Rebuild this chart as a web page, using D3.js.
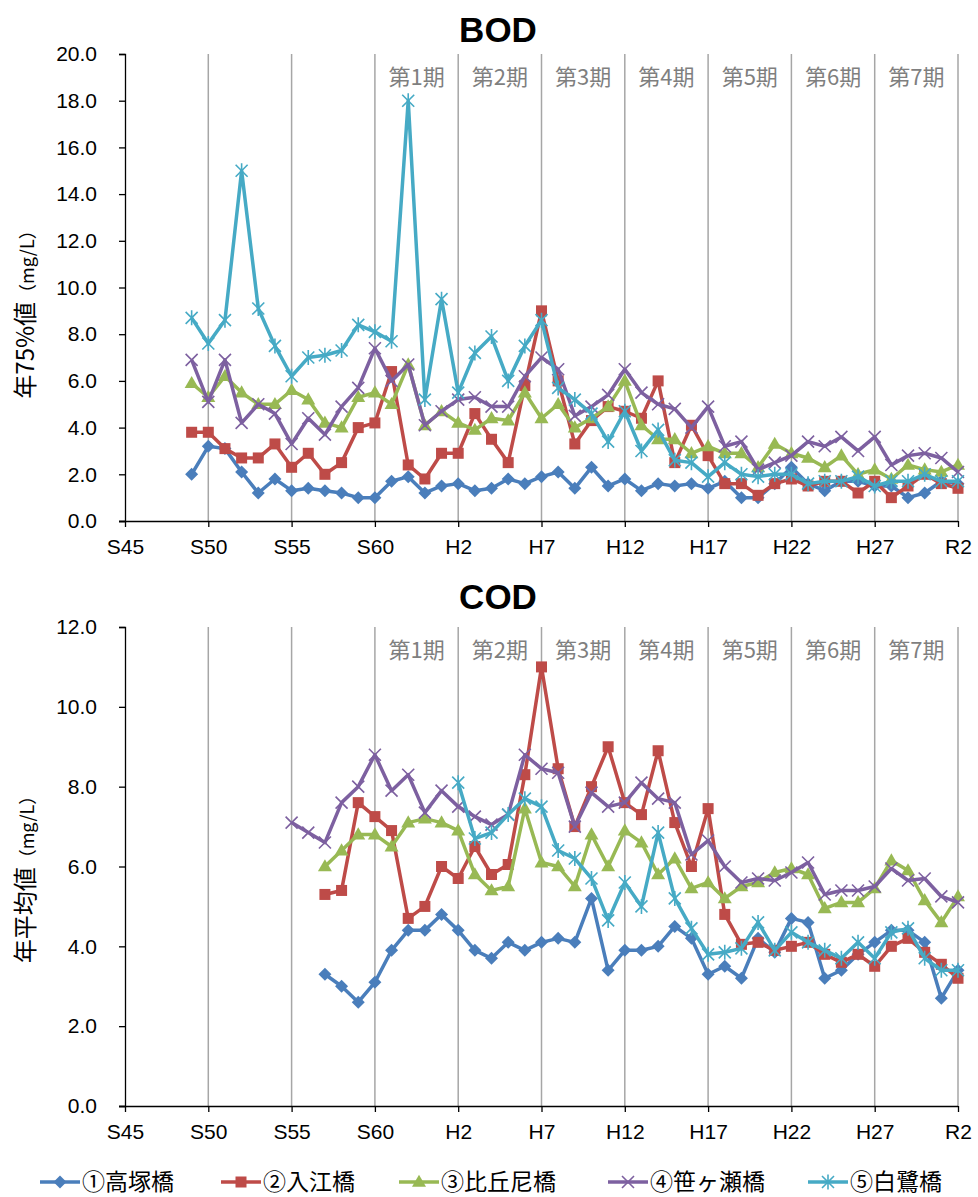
<!DOCTYPE html>
<html><head><meta charset="utf-8">
<script src="https://cdn.jsdelivr.net/npm/d3@7"></script>
<style>
html,body{margin:0;padding:0;background:#fff;}
svg{display:block;}
</style></head>
<body>
<svg id="chart" width="978" height="1197"></svg>
<script>
// ---------------- DATA ----------------
const seriesNames = ["①高塚橋", "②入江橋", "③比丘尼橋", "④笹ヶ瀬橋", "⑤白鷺橋"];
const seriesColors = ["#4A7EBB", "#BE4B48", "#98B954", "#7D60A0", "#46AAC5"];
const seriesMarkers = ["diamond", "square", "triangle", "x", "star"];

const xTickYears = [1970, 1975, 1980, 1985, 1990, 1995, 2000, 2005, 2010, 2015, 2020];
const xTickLabels = ["S45", "S50", "S55", "S60", "H2", "H7", "H12", "H17", "H22", "H27", "R2"];
const periodLabels = ["第1期", "第2期", "第3期", "第4期", "第5期", "第6期", "第7期"];
const periodStartYears = [1985, 1990, 1995, 2000, 2005, 2010, 2015];

const bodTicks = [0, 2, 4, 6, 8, 10, 12, 14, 16, 18, 20];
const codTicks = [0, 2, 4, 6, 8, 10, 12];

// BOD (年75%値), 1974 (S49) - 2020 (R2)
const bodStartYear = 1974;
const bod1 = [2.0,3.2,3.1,2.1,1.2,1.8,1.3,1.4,1.3,1.2,1.0,1.0,1.7,1.9,1.2,1.5,1.6,1.3,1.4,1.8,1.6,1.9,2.1,1.4,2.3,1.5,1.8,1.3,1.6,1.5,1.6,1.4,1.7,1.0,1.0,1.6,2.3,1.6,1.3,1.7,1.7,1.5,1.5,1.0,1.2,1.7,1.6];
const bod2 = [3.8,3.8,3.1,2.7,2.7,3.3,2.3,2.9,2.0,2.5,4.0,4.2,6.4,2.4,1.8,2.9,2.9,4.6,3.5,2.5,5.8,9.0,6.0,3.3,4.3,4.9,4.7,4.4,6.0,2.5,4.1,2.8,1.6,1.6,1.1,1.6,1.8,1.5,1.7,1.7,1.2,1.7,1.0,1.5,2.0,1.6,1.4];
const bod3 = [5.9,5.3,6.2,5.5,5.0,5.0,5.6,5.2,4.2,4.0,5.3,5.5,5.0,6.7,4.1,4.7,4.2,3.9,4.4,4.3,5.5,4.4,5.0,4.0,4.4,4.9,6.0,4.1,3.5,3.5,2.9,3.2,2.9,2.9,2.3,3.3,2.9,2.7,2.3,2.8,2.0,2.2,1.8,2.4,2.2,2.1,2.4];
const bod4 = [6.9,5.1,6.9,4.2,5.0,4.6,3.3,4.4,3.7,4.9,5.7,7.4,6.0,6.7,4.1,4.7,5.2,5.3,4.9,4.9,6.2,7.0,6.5,4.5,4.9,5.4,6.5,5.5,5.0,4.8,4.0,4.9,3.2,3.4,2.2,2.5,2.8,3.4,3.2,3.6,3.0,3.6,2.4,2.8,2.9,2.7,2.1];
const bod5 = [8.7,7.6,8.6,15.0,9.1,7.5,6.2,7.0,7.1,7.3,8.4,8.1,7.7,18.0,5.2,9.5,5.5,7.2,7.9,6.0,7.5,8.6,5.7,5.2,4.6,3.4,4.7,3.0,3.9,2.6,2.5,1.9,2.5,2.0,1.9,2.0,2.0,1.6,1.7,1.7,1.9,1.5,1.7,1.7,2.0,1.7,1.7];

// COD (年平均値)
const cod1Start = 1982;
const cod1 = [3.3,3.0,2.6,3.1,3.9,4.4,4.4,4.8,4.4,3.9,3.7,4.1,3.9,4.1,4.2,4.1,5.2,3.4,3.9,3.9,4.0,4.5,4.2,3.3,3.5,3.2,4.2,3.85,4.7,4.6,3.2,3.4,3.8,4.1,4.4,4.4,4.1,2.7,3.4];
const cod2Start = 1982;
const cod2 = [5.3,5.4,7.6,7.25,6.9,4.7,5.0,6.0,5.7,6.5,5.8,6.05,8.3,11.0,8.45,7.0,8.0,9.0,7.6,7.3,8.9,7.1,6.0,7.45,4.8,4.05,4.1,3.9,4.0,4.1,3.8,3.6,3.8,3.5,4.0,4.2,3.85,3.55,3.2];
const cod3Start = 1982;
const cod3 = [6.0,6.4,6.8,6.8,6.5,7.1,7.2,7.1,6.9,5.8,5.4,5.5,7.45,6.1,6.0,5.5,6.8,6.0,6.9,6.6,5.8,6.2,5.45,5.6,5.2,5.5,5.6,5.85,5.95,5.8,4.95,5.1,5.1,5.45,6.15,5.9,5.15,4.6,5.25];
const cod4Start = 1980;
const cod4 = [7.1,6.85,6.6,7.6,8.0,8.8,7.9,8.3,7.35,7.9,7.5,7.25,7.05,7.3,8.8,8.45,8.35,7.0,7.85,7.5,7.6,8.1,7.7,7.6,6.3,6.65,6.0,5.6,5.7,5.65,5.85,6.1,5.3,5.4,5.4,5.5,5.95,5.65,5.7,5.25,5.1];
const cod5Start = 1990;
const cod5 = [8.1,6.7,6.85,7.3,7.7,7.5,6.4,6.2,5.7,4.65,5.6,5.0,6.85,5.2,4.45,3.8,3.85,3.95,4.6,3.9,4.35,4.1,3.9,3.7,4.1,3.7,4.35,4.45,3.7,3.4,3.4];

// --------------- BUILD ---------------
const toPts = (start, arr) => arr.map((v, i) => ({year: start + i, value: v}));
const bodSeries = [bod1, bod2, bod3, bod4, bod5].map(a => toPts(bodStartYear, a));
const codSeries = [toPts(cod1Start, cod1), toPts(cod2Start, cod2), toPts(cod3Start, cod3), toPts(cod4Start, cod4), toPts(cod5Start, cod5)];

const svg = d3.select("#chart");
const NUM_FONT = "'Liberation Sans', Arial, sans-serif";
const JP_FONT = "'Noto Sans CJK JP', 'Noto Sans', sans-serif";

const x = d3.scaleLinear().domain([1970, 2020]).range([125, 958]);

function drawMarker(g, type, color, cx, cy) {
  if (type === "diamond") {
    const r = 6.5;
    g.append("path").attr("d", `M${cx},${cy - r}L${cx + r},${cy}L${cx},${cy + r}L${cx - r},${cy}Z`).attr("fill", color);
  } else if (type === "square") {
    const s = 11;
    g.append("rect").attr("x", cx - s / 2).attr("y", cy - s / 2).attr("width", s).attr("height", s).attr("fill", color);
  } else if (type === "triangle") {
    const s = 14, h = s * 0.87;
    g.append("path").attr("d", `M${cx},${cy - h * 0.6}L${cx + s / 2},${cy + h * 0.4}L${cx - s / 2},${cy + h * 0.4}Z`).attr("fill", color);
  } else if (type === "x") {
    const r = 6;
    g.append("path").attr("d", `M${cx - r},${cy - r}L${cx + r},${cy + r}M${cx + r},${cy - r}L${cx - r},${cy + r}`)
      .attr("stroke", color).attr("stroke-width", 1.6).attr("fill", "none");
  } else if (type === "star") {
    const r = 6;
    g.append("path").attr("d", `M${cx - r},${cy - r}L${cx + r},${cy + r}M${cx + r},${cy - r}L${cx - r},${cy + r}M${cx},${cy - r - 1.5}L${cx},${cy + r + 1.5}`)
      .attr("stroke", color).attr("stroke-width", 1.6).attr("fill", "none");
  }
}

function panel(opts) {
  const {title, titleY, top, bottom, maxV, ticks, series, yTitleMain, yTitleCenter} = opts;
  const y = d3.scaleLinear().domain([0, maxV]).range([bottom, top]);
  const g = svg.append("g");

  // vertical gridlines
  g.selectAll("line.grid").data(xTickYears.slice(1)).enter().append("line")
    .attr("x1", d => x(d)).attr("x2", d => x(d)).attr("y1", top).attr("y2", bottom)
    .attr("stroke", "#a6a6a6").attr("stroke-width", 1.5);

  // period labels
  g.selectAll("text.period").data(periodLabels).enter().append("text")
    .attr("x", (d, i) => x(periodStartYears[i] + 2.5))
    .attr("y", top + 31)
    .attr("text-anchor", "middle")
    .attr("font-family", JP_FONT).attr("font-size", 22)
    .attr("fill", "#7f7f7f")
    .text(d => d);

  // y axis
  const yAxis = d3.axisLeft(y).tickValues(ticks).tickFormat(d3.format(".1f")).tickSize(6).tickPadding(22);
  const ya = g.append("g").attr("transform", `translate(${x(1970)},0)`).call(yAxis);
  ya.select(".domain").attr("stroke", "#000").attr("stroke-width", 1.3);
  ya.selectAll(".tick line").attr("stroke", "#000").attr("stroke-width", 1.3);
  ya.selectAll(".tick text").attr("font-family", NUM_FONT).attr("font-size", 21).attr("fill", "#000");

  // x axis
  const xAxis = d3.axisBottom(x).tickValues(xTickYears).tickFormat((d, i) => xTickLabels[i]).tickSize(6).tickPadding(12);
  const xa = g.append("g").attr("transform", `translate(0,${bottom})`).call(xAxis);
  xa.select(".domain").attr("stroke", "#000").attr("stroke-width", 1.3).attr("d", `M${x(1970) - 6},0.5H${x(2020)}`);
  xa.selectAll(".tick line").attr("stroke", "#000").attr("stroke-width", 1.3);
  xa.selectAll(".tick text").attr("font-family", NUM_FONT).attr("font-size", 21).attr("fill", "#000");

  // title
  svg.append("text").attr("x", 498).attr("y", titleY).attr("text-anchor", "middle")
    .attr("font-family", NUM_FONT).attr("font-weight", "bold").attr("font-size", 35).attr("fill", "#000")
    .text(title);

  // y title
  const yt = svg.append("text")
    .attr("transform", `translate(34,${yTitleCenter}) rotate(-90)`)
    .attr("text-anchor", "middle")
    .attr("font-family", JP_FONT).attr("font-size", 24).attr("fill", "#000");
  yt.append("tspan").text(yTitleMain);
  yt.append("tspan").attr("font-size", 18).text("（mg/L）");

  // series
  const line = d3.line().x(d => x(d.year)).y(d => y(d.value));
  series.forEach((pts, si) => {
    const sg = svg.append("g");
    sg.append("path").datum(pts).attr("d", line).attr("fill", "none")
      .attr("stroke", seriesColors[si]).attr("stroke-width", 3.5).attr("stroke-linejoin", "round");
    pts.forEach(p => drawMarker(sg, seriesMarkers[si], seriesColors[si], x(p.year), y(p.value)));
  });
}

panel({title: "BOD", titleY: 42, top: 54, bottom: 521, maxV: 20, ticks: bodTicks, series: bodSeries,
  yTitleMain: "年75%値", yTitleCenter: 310});
panel({title: "COD", titleY: 609, top: 627, bottom: 1106, maxV: 12, ticks: codTicks, series: codSeries,
  yTitleMain: "年平均値", yTitleCenter: 875});

// legend
const legendLineX = [40, 221, 399, 608, 808];
const lg = svg.append("g");
seriesNames.forEach((name, i) => {
  const lx = legendLineX[i], ly = 1182;
  lg.append("line").attr("x1", lx).attr("x2", lx + 40).attr("y1", ly).attr("y2", ly)
    .attr("stroke", seriesColors[i]).attr("stroke-width", 3.5);
  drawMarker(lg, seriesMarkers[i], seriesColors[i], lx + 20, ly);
  lg.append("text").attr("x", lx + 42).attr("y", ly + 8)
    .attr("font-family", JP_FONT).attr("font-size", 23).attr("fill", "#000").text(name);
});
</script>
</body></html>
